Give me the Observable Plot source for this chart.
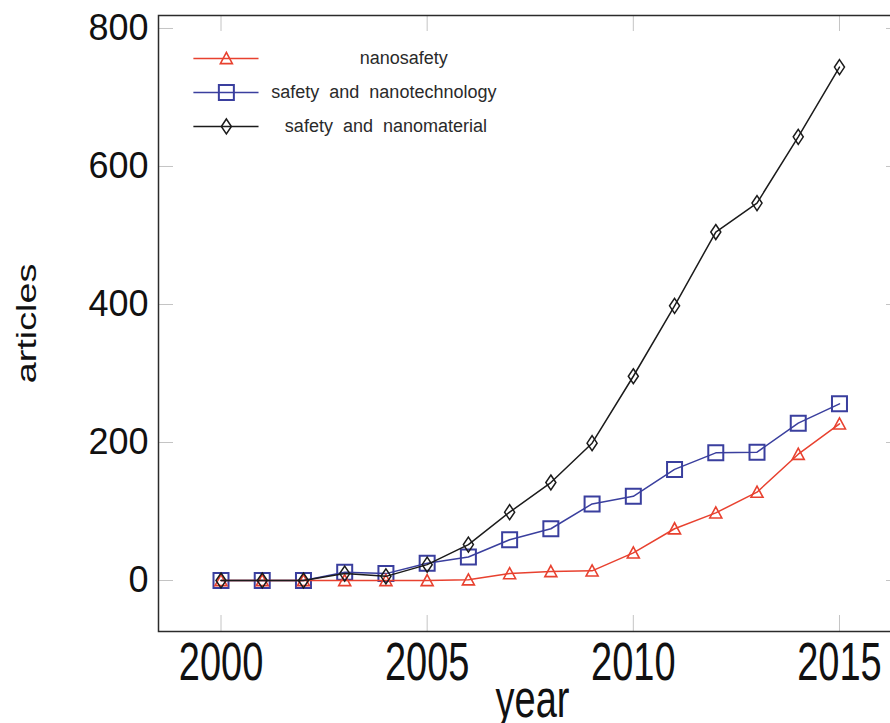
<!DOCTYPE html>
<html><head><meta charset="utf-8">
<script src="https://cdn.jsdelivr.net/npm/d3@7"></script>
<script src="https://cdn.jsdelivr.net/npm/@observablehq/plot@0.6"></script>
<style>html,body{margin:0;padding:0;background:#fff;overflow:hidden}svg{max-width:none!important}</style>
</head><body><div id="chart"></div>
<script>
// ---- data ----
const years = [2000,2001,2002,2003,2004,2005,2006,2007,2008,2009,2010,2011,2012,2013,2014,2015];
const nanosafety = [0,0,0,0,0,0,1,10,13,14,40,75,98,128,183,227];
const nanotechnology = [0,0,0,12,10,25,34,59,75,111,122,161,185,186,228,256];
const nanomaterial = [0,0,0,10,6,23,52,99,142,199,296,398,505,547,643,744];
const seriesNames = ["nanosafety", "safety and nanotechnology", "safety and nanomaterial"];
const xTicks = [2000, 2005, 2010, 2015];
const yTicks = [0, 200, 400, 600, 800];

// ---- styles ----
const colors = ["#e8412f", "#3a3f9e", "#1b1b1b"];
const shape = pts => ({draw(ctx, size) {
  const r = Math.sqrt(size / Math.PI);
  pts.forEach(([a, b], i) => i ? ctx.lineTo(a * r, b * r) : ctx.moveTo(a * r, b * r));
  ctx.closePath();
}});
const triangle = shape([[0,-1],[1,0.85],[-1,0.85]]);
const square = shape([[-1,-1],[1,-1],[1,1],[-1,1]]);
const diamond = shape([[0,-1],[0.67,0],[0,1],[-0.67,0]]);
const symbols = [triangle, square, diamond];
const radii = [6, 7.5, 7.5];
const markerWidths = [1.6, 2, 1.5];

const values = [nanosafety, nanotechnology, nanomaterial];
const series = values.map(v => years.map((year, i) => ({year, value: v[i]})));

// legend layout (in chart units)
const legendLayout = {x1: 1999.33, x2: 2000.91, xMark: 2000.13, xText: [2004.43, 2003.95, 2004.0], y: [756.5, 707.2, 658.0]};
const legendRows = seriesNames.map((name, i) => ({name, i, y: legendLayout.y[i], xt: legendLayout.xText[i]}));

const drawOrder = [1, 0, 2];
const seriesMarks = drawOrder.flatMap(k => [
  Plot.line(series[k], {x: "year", y: "value", stroke: colors[k], strokeWidth: 1.5}),
  Plot.dot(series[k], {x: "year", y: "value", stroke: colors[k], fill: "none", symbol: symbols[k], r: radii[k], strokeWidth: markerWidths[k]})
]);
const legendMarks = legendRows.flatMap(d => [
  Plot.link([d], {x1: legendLayout.x1, x2: legendLayout.x2, y1: "y", y2: "y", stroke: colors[d.i], strokeWidth: 1.5}),
  Plot.dot([d], {x: legendLayout.xMark, y: "y", stroke: colors[d.i], fill: "none", symbol: symbols[d.i], r: radii[d.i], strokeWidth: markerWidths[d.i]}),
  Plot.text([d], {x: "xt", y: "y", text: "name", fontSize: 18, fill: "#2a2a2a", textAnchor: "middle"})
]);

const tickColor = "#c4c4c4";
const chart = Plot.plot({
  width: 905, height: 723,
  marginLeft: 158, marginRight: 5, marginTop: 15, marginBottom: 92,
  style: {fontFamily: "'Liberation Sans', Arial, sans-serif", background: "#fff", color: "#111", wordSpacing: "5px", overflow: "visible", maxWidth: "none"},
  x: {domain: [1998.484, 2016.48]},
  y: {domain: [-73.9, 818.8]},
  marks: [
    Plot.axisX({ticks: xTicks, anchor: "bottom", tickSize: 16, dy: -16, fill: "none", stroke: tickColor, label: null}),
    Plot.axisX({ticks: xTicks, anchor: "top", tickSize: 15, dy: 15, fill: "none", stroke: tickColor, label: null}),
    Plot.axisY({ticks: yTicks, anchor: "left", tickSize: 15, dx: 15, fill: "none", stroke: tickColor, label: null}),
    Plot.axisY({ticks: yTicks, anchor: "right", tickSize: 15, dx: -15, fill: "none", stroke: tickColor, label: null}),
    Plot.axisX({ticks: xTicks, anchor: "bottom", tickSize: 0, tickPadding: 11, fontSize: 38, tickFormat: d => String(d), label: null}),
    Plot.axisY({ticks: yTicks, anchor: "left", tickSize: 0, tickPadding: 10, fontSize: 36, tickFormat: d => String(d), label: null}),
    Plot.text(["articles"], {text: d => d, frameAnchor: "left", rotate: -90, dx: -131.5, fontSize: 27, textAnchor: "middle", lineAnchor: "middle"}),
    Plot.text(["year"], {text: d => d, frameAnchor: "bottom", dx: 3, dy: 68, fontSize: 38, textAnchor: "middle", lineAnchor: "middle"}),
    ...seriesMarks,
    ...legendMarks,
    Plot.frame({stroke: "#2b2b2b", strokeWidth: 1.5})
  ]
});
document.getElementById("chart").appendChild(chart);

// stretch a text element in place (its em-based offsets stay inside the scaled space)
function stretch(el, sx, sy) {
  const t = el.getAttribute("transform") || "";
  el.setAttribute("transform", t + ` scale(${sx},${sy})`);
}
const xTickStrings = xTicks.map(String);
document.querySelectorAll("#chart svg text").forEach(el => {
  const s = el.textContent.trim();
  if (xTickStrings.includes(s) || s === "year") stretch(el, 1, 1.4);
  else if (s === "articles") stretch(el, 1.4, 1);
});
</script>
</body></html>
